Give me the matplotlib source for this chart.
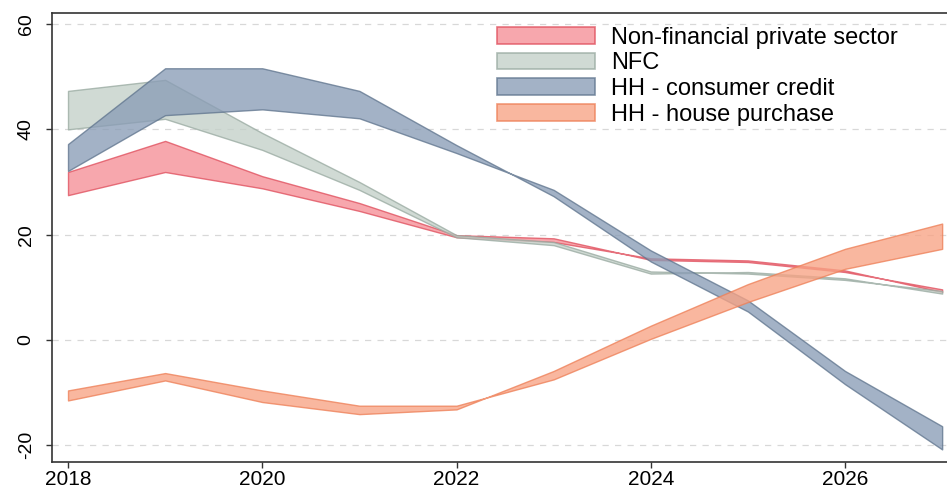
import matplotlib
matplotlib.use("Agg")
import matplotlib.pyplot as plt
from matplotlib.patches import Patch
import numpy as np

plt.rcParams["font.family"] = ["Liberation Sans", "DejaVu Sans"]
plt.rcParams["axes.unicode_minus"] = False

years = [2018, 2019, 2020, 2021, 2022, 2023, 2024, 2025, 2026, 2027]

# band bounds
nfps_a = [31.9, 37.8, 31.1, 26.0, 19.9, 19.3, 15.2, 14.8, 12.9, 9.6]
nfps_b = [27.5, 31.9, 28.8, 24.5, 19.5, 18.6, 15.5, 15.1, 13.2, 9.1]

nfc_a = [47.3, 49.4, 39.3, 30.0, 19.9, 18.6, 13.0, 12.6, 11.4, 9.3]
nfc_b = [40.0, 42.0, 36.1, 28.5, 19.5, 18.0, 12.6, 12.9, 11.7, 8.8]

cc_a = [37.2, 51.6, 51.6, 47.3, 37.0, 27.3, 14.9, 5.4, -8.4, -20.8]
cc_b = [32.1, 42.7, 43.8, 42.1, 35.5, 28.5, 17.0, 7.5, -5.9, -16.4]

hp_a = [-9.6, -6.3, -9.6, -12.5, -12.5, -7.5, 0.2, 7.2, 13.5, 17.3]
hp_b = [-11.5, -7.7, -11.8, -14.1, -13.2, -5.9, 2.7, 10.6, 17.3, 22.1]

labels = ["Non-financial private sector", "NFC", "HH - consumer credit", "HH - house purchase"]
fills = ["#f58e96", "#c3d0c8", "#8a9db6", "#f8a384"]
edges = ["#e0505e", "#9aaba2", "#61768f", "#ee8058"]

fig = plt.figure(figsize=(9.47, 4.91), dpi=100)
ax = fig.add_axes([0.0549, 0.059, 0.9451, 0.9145])

series = [(nfps_a, nfps_b), (nfc_a, nfc_b), (cc_a, cc_b), (hp_a, hp_b)]
for (lo, hi), fc, ec in zip(series, fills, edges):
    ax.fill_between(years, lo, hi, facecolor=fc, edgecolor=ec,
                    linewidth=1.0, alpha=0.78, zorder=3)

ax.set_xlim(2017.835, 2027.05)
ax.set_ylim(-23.2, 62.1)
ax.set_xticks([2018, 2020, 2022, 2024, 2026])
ax.set_yticks([-20, 0, 20, 40, 60])
ax.tick_params(axis="both", length=4.5, width=1, color="#333333")
ax.tick_params(axis="x", labelsize=15, pad=1.5)
ax.tick_params(axis="y", labelsize=14, labelrotation=90, pad=8)
for t in ax.get_yticklabels():
    t.set_va("center")
ax.grid(axis="y", linestyle=(0, (5, 5)), color="#d8d8d8", linewidth=0.9, zorder=0)

for s in ["left", "bottom", "top"]:
    ax.spines[s].set_color("#333333")
    ax.spines[s].set_linewidth(1.2)
ax.spines["right"].set_visible(False)

handles = [Patch(facecolor=fc, edgecolor=ec, alpha=0.78, linewidth=1.2)
           for fc, ec in zip(fills, edges)]
fig.legend(handles, labels, loc="upper left", bbox_to_anchor=(0.525, 0.946),
           frameon=False, fontsize=17, handlelength=4.15, handleheight=0.72,
           labelspacing=0.16, handletextpad=0.68, borderaxespad=0, borderpad=0)

fig.savefig("out.png", dpi=100)
